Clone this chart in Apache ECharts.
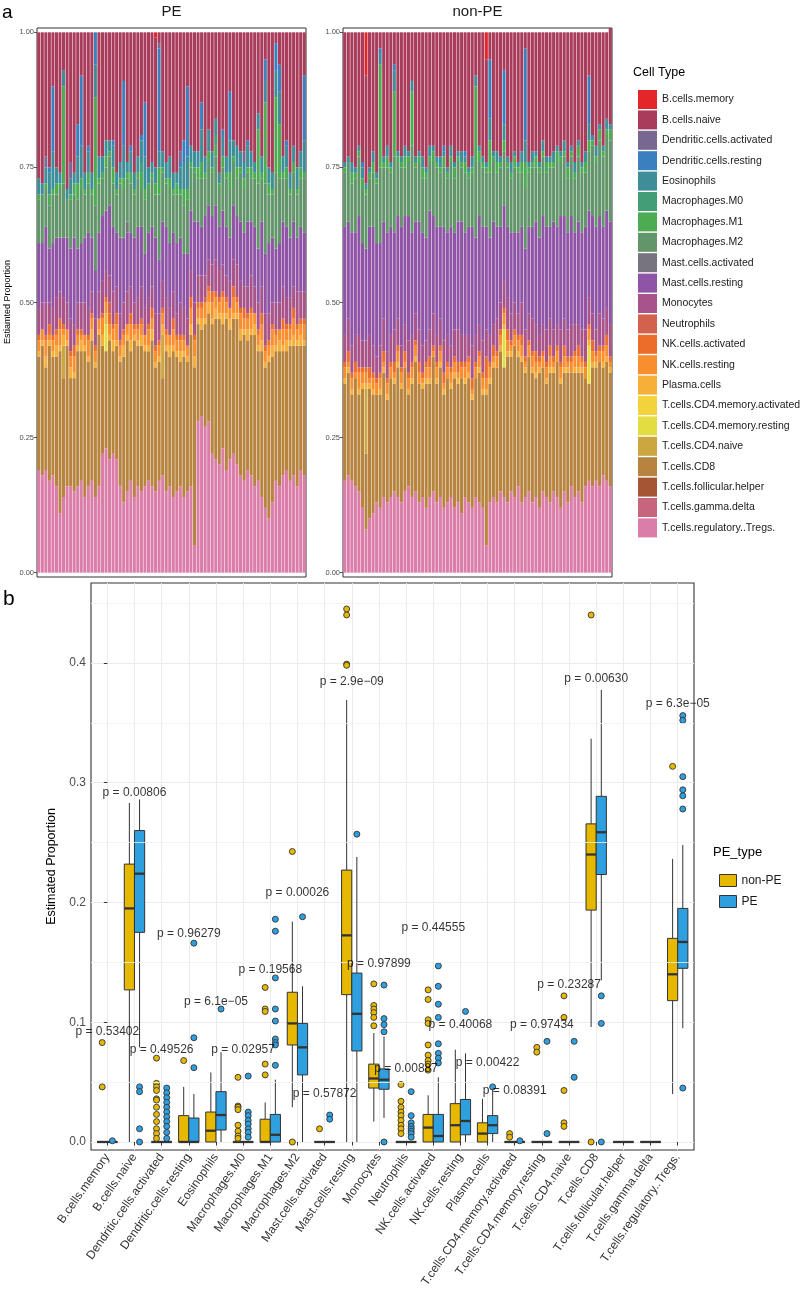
<!DOCTYPE html>
<html><head><meta charset="utf-8">
<script src="https://cdn.jsdelivr.net/npm/echarts@6/dist/echarts.min.js"></script>
<style>html,body{margin:0;padding:0;background:#fff}#c{width:800px;height:1309px}</style>
</head><body><div id="c"></div>
<script>
const FONT = "'Liberation Sans', Arial, sans-serif";
const cellTypes = ["B.cells.memory","B.cells.naive","Dendritic.cells.activated","Dendritic.cells.resting","Eosinophils","Macrophages.M0","Macrophages.M1","Macrophages.M2","Mast.cells.activated","Mast.cells.resting","Monocytes","Neutrophils","NK.cells.activated","NK.cells.resting","Plasma.cells","T.cells.CD4.memory.activated","T.cells.CD4.memory.resting","T.cells.CD4.naive","T.cells.CD8","T.cells.follicular.helper","T.cells.gamma.delta","T.cells.regulatory..Tregs."];
const cellColors = ["#E4262A","#A93B5B","#776892","#3A7FBE","#3D8E98","#439E76","#4DAC52","#62966A","#78747F","#9054A6","#A8548A","#D2614E","#EC6D2A","#F98E2F","#F6AF38","#F3D33C","#E4DD42","#CCA63E","#B7843F","#A55534","#C6657B","#DB7DA9"];
const N = 76;
function sparse(m){ const a = new Array(N).fill(0); for (const k in m) a[+k] = m[k]; return a; }

// ---- Panel a, PE samples (percent of each sample) ----
const pe_Bmem = sparse({33:1});
const pe_Bnaive = [27,28,23,25,10,25,26,7,29,24, 26,17,8,26,21,26,0,23,23,20, 20,20,26,24,9,24,21,26,23,19, 13,25,24,24,2,22,24,23,26,26, 22,20,10,21,22,22,13,23,18,22, 16,26,18,23,11,20,21,22,22,20, 22,24,15,23,5,25,26,2,6,23, 20,26,21,25,22,8];
const pe_DCact = sparse({2:2, 9:3, 34:1, 40:2, 58:2});
const pe_DCrest = [0,0,0,1,12,0,0,0,0,0, 0,6,13,0,1,0,6,0,0,0, 0,1,0,0,12,0,1,0,0,1, 10,0,0,0,19,0,0,0,0,0, 1,4,13,0,0,0,5,0,0,0, 0,0,1,0,9,0,0,0,0,1, 0,0,0,0,4,0,0,5,5,0, 1,0,0,0,0,12];
const pe_Eos = [3,2,3,4,7,3,2,3,2,3, 2,5,6,3,4,3,6,4,3,3, 2,4,3,3,6,2,4,3,3,4, 6,3,2,3,3,3,3,4,3,2, 4,5,6,3,3,3,6,3,4,3, 3,2,4,3,6,3,4,3,3,4, 3,2,3,3,4,3,3,5,6,3, 4,3,3,4,3,6];
const pe_M0 = sparse({29:2, 50:2});
const pe_M1 = [1,0,1,2,1,2,1,18,0,1, 2,3,2,1,2,1,20,1,1,2, 1,3,1,1,2,1,2,1,1,3, 2,1,1,2,5,1,1,2,1,2, 1,3,2,1,1,2,3,1,2,1, 2,1,2,1,3,1,2,1,2,1, 2,1,10,1,15,2,1,14,10,1, 2,1,2,1,2,1];
const pe_M2 = [8,9,7,8,9,8,9,10,7,9, 8,9,10,8,9,8,12,9,7,8, 9,8,7,10,9,8,9,8,9,7, 10,8,9,8,12,9,8,10,7,9, 8,9,10,8,9,8,9,7,8,8, 9,7,8,9,9,8,7,9,8,9, 8,9,12,8,13,9,8,14,12,8, 9,8,9,8,9,10];
const pe_MastAct = sparse({25:2});
const pe_MastRest = [12,11,14,10,12,11,10,11,12,13, 16,10,11,12,14,10,9,11,12,11, 13,12,10,14,12,11,10,12,13,11, 10,12,11,14,10,11,13,12,11,13, 12,10,12,11,15,10,9,11,10,9, 10,8,10,9,8,10,9,11,10,12, 10,11,10,12,11,13,12,10,11,12, 13,11,12,10,12,11];
const pe_Mono = [5,5,6,4,5,6,5,5,5,6, 4,5,5,6,5,4,5,5,6,5, 5,6,5,5,5,6,5,4,5,6, 5,5,4,6,5,5,6,5,5,4, 6,5,5,5,6,5,5,4,5,5, 6,5,5,4,5,5,6,5,4,5, 6,5,5,5,6,5,4,5,5,6, 5,5,4,6,5,5];
const pe_Neut = sparse({20:2, 47:1});
const pe_NKact = [1,0,1,2,1,1,2,1,0,1, 2,1,1,0,1,1,1,0,1,1, 2,1,2,1,1,0,2,1,1,1, 0,1,2,1,1,1,1,0,2,1, 1,1,0,2,1,1,1,0,1,2, 1,1,1,1,0,2,1,1,2,1, 1,0,1,2,1,1,1,1,0,2, 1,1,2,1,1,1];
const pe_NKrest = [2,2,3,1,2,2,3,1,2,2, 3,2,1,2,3,2,2,2,3,2, 2,2,3,2,2,2,3,1,2,2, 2,3,2,2,2,2,2,2,3,2, 2,2,2,3,3,2,2,3,2,3, 2,2,3,2,2,3,2,3,2,2, 3,2,2,3,2,2,3,2,2,3, 2,2,3,2,2,3];
const pe_Plasma = [1,1,2,1,1,2,1,2,1,2, 1,1,2,1,1,2,1,1,2,2, 1,2,1,1,2,1,2,1,1,2, 1,1,2,1,1,2,1,2,1,1, 2,1,1,2,2,1,2,1,2,1, 2,1,2,1,2,1,1,2,1,2, 1,2,1,2,1,1,2,1,2,1, 2,1,2,1,2,1];
const pe_CD4memAct = sparse({});
const pe_CD4memRest = sparse({19:5});
const pe_CD4naive = sparse({7:6, 35:8});
const pe_CD8 = [21,24,19,25,22,24,30,22,26,20, 21,25,24,27,23,26,24,28,20,18, 22,19,21,23,27,28,24,29,26,27, 25,24,27,23,22,18,26,24,27,25, 23,26,24,28,33,18,16,19,20,24, 26,27,23,28,24,25,27,25,27,24, 26,28,24,27,26,29,27,24,25,23, 22,25,24,26,23,24];
const pe_TFH = sparse({});
const pe_GD = sparse({});
const pe_Tregs = [19,18,19,17,18,16,11,14,16,16, 15,16,17,14,16,17,14,16,22,23, 21,22,21,16,13,15,17,14,16,15, 16,17,16,15,17,18,15,16,14,15, 16,14,15,16,5,28,29,27,28,22, 21,20,23,19,21,22,20,18,17,19, 18,16,17,14,12,10,13,17,16,18, 19,17,18,16,19,18];

// ---- Panel a, non-PE samples (percent) ----
const np_Bmem = sparse({6:8, 40:5});
const np_Bnaive = [24,23,24,25,21,24,20,25,22,26, 3,23,21,24,6,22,23,21,22,9, 23,22,23,25,21,21,23,23,21,25, 21,24,22,22,22,25,23,8,21,23, 19,5,22,22,23,7,23,24,22,24, 22,3,24,22,22,24,20,23,23,22, 21,22,20,24,21,24,20,24,22,8, 19,21,17,21,16,18];
const np_DCact = sparse({});
const np_DCrest = [0,0,0,0,0,1,0,0,0,0, 1,0,0,0,1,0,0,0,0,0, 0,0,0,0,0,0,0,0,1,0, 0,0,0,0,1,0,0,0,0,0, 0,11,0,0,0,10,0,0,0,0, 0,17,0,0,0,0,0,0,0,0, 0,0,0,0,0,0,0,0,0,9, 0,0,0,0,0,0];
const np_Eos = [1,1,2,1,1,2,1,1,2,1, 2,1,2,1,4,1,1,2,1,2, 1,1,2,1,2,1,1,2,1,1, 2,1,1,2,1,1,2,2,1,1, 1,4,1,2,1,3,1,2,1,1, 2,4,1,2,1,1,2,1,1,2, 1,1,2,1,1,2,1,1,2,3, 1,2,1,1,2,1];
const np_M0 = sparse({});
const np_M1 = [1,0,2,1,1,2,1,1,2,1, 19,1,2,1,12,1,1,2,1,10, 1,1,2,1,1,2,1,1,2,1, 1,2,1,1,2,1,1,14,2,1, 1,6,1,2,1,2,1,1,2,1, 2,5,1,1,2,1,1,2,1,1, 2,1,1,2,1,1,2,1,2,2, 1,1,2,1,1,2];
const np_M2 = [10,11,9,10,11,10,10,9,10,11, 14,10,12,10,14,10,11,9,10,16, 10,11,10,11,9,10,11,10,11,10, 12,10,11,10,11,9,10,14,10,11, 10,12,11,10,11,10,11,10,12,11, 10,11,10,11,10,12,11,10,11,10, 12,10,11,10,11,10,12,11,10,11, 13,12,14,13,14,15];
const np_MastAct = sparse({});
const np_MastRest = [20,18,21,19,22,18,17,20,22,21, 19,18,22,20,18,19,22,20,23,19, 17,20,21,19,22,18,20,17,21,19, 22,18,20,21,19,20,22,18,20,21, 19,18,19,17,14,14,13,15,13,15, 14,15,16,17,19,18,20,19,17,20, 18,21,19,18,20,17,19,18,19,16, 18,19,18,17,18,19];
const np_Mono = [5,6,5,5,6,5,5,6,5,4, 5,6,5,5,6,5,4,5,6,5, 5,6,5,4,5,6,5,5,6,5, 4,5,6,5,5,4,6,5,5,6, 5,5,4,6,5,5,6,5,5,4, 6,5,5,6,5,4,5,6,5,5, 4,6,5,5,6,5,4,5,6,5, 5,4,6,5,5,6];
const np_Neut = sparse({});
const np_NKact = [1,2,1,2,1,1,1,2,1,1, 1,2,1,1,2,1,1,2,1,1, 1,2,1,1,2,1,1,1,2,1, 1,1,2,1,1,1,2,1,1,1, 4,1,2,1,1,1,2,1,1,1, 2,1,1,1,2,1,1,1,2,1, 1,1,2,1,1,1,2,1,1,1, 2,1,1,1,2,1];
const np_NKrest = [2,1,2,1,3,2,2,1,2,2, 2,1,2,2,1,2,2,1,2,2, 2,2,1,2,2,1,2,2,1,2, 2,2,1,2,2,2,1,2,2,2, 2,2,1,2,2,2,2,1,2,2, 2,1,2,2,2,1,2,2,2,1, 2,2,2,1,2,2,2,1,2,2, 2,1,2,2,2,1];
const np_Plasma = [1,1,1,0,1,1,1,1,1,0, 1,1,1,0,1,1,1,0,1,1, 1,0,1,1,1,0,1,1,1,0, 1,1,1,0,1,1,1,0,1,1, 1,1,1,0,1,1,1,1,0,1, 1,1,0,1,1,1,0,1,1,1, 0,1,1,1,0,1,1,1,0,1, 1,1,0,1,1,1];
const np_CD4memAct = sparse({});
const np_CD4memRest = sparse({45:7, 69:7});
const np_CD4naive = sparse({6:12});
const np_CD8 = [18,19,16,20,18,22,14,24,22,20, 21,23,19,22,20,24,21,23,17,21, 24,22,20,23,21,25,22,24,21,23, 20,24,22,25,21,23,20,22,24,21, 28,22,24,25,26,24,27,25,28,24, 26,23,25,24,22,25,23,21,24,22, 25,23,22,24,21,23,22,24,20,18, 22,21,23,20,22,21];
const np_TFH = sparse({});
const np_GD = sparse({});
const np_Tregs = [17,18,17,16,15,12,8,10,11,13, 12,14,13,14,15,14,13,15,16,14, 15,13,14,12,14,15,13,14,12,13, 14,12,13,11,14,13,12,14,13,12, 5,13,14,13,15,14,13,15,14,16, 13,14,15,13,14,12,15,14,13,15, 14,12,15,13,16,14,15,13,16,17, 16,17,16,18,17,16];

const peTable = [pe_Bmem,pe_Bnaive,pe_DCact,pe_DCrest,pe_Eos,pe_M0,pe_M1,pe_M2,pe_MastAct,pe_MastRest,pe_Mono,pe_Neut,pe_NKact,pe_NKrest,pe_Plasma,pe_CD4memAct,pe_CD4memRest,pe_CD4naive,pe_CD8,pe_TFH,pe_GD,pe_Tregs];
const npTable = [np_Bmem,np_Bnaive,np_DCact,np_DCrest,np_Eos,np_M0,np_M1,np_M2,np_MastAct,np_MastRest,np_Mono,np_Neut,np_NKact,np_NKrest,np_Plasma,np_CD4memAct,np_CD4memRest,np_CD4naive,np_CD8,np_TFH,np_GD,np_Tregs];
const sampleIds = Array.from({length: N}, (_, i) => 'S' + (i + 1));
const propTicks = [0, 0.25, 0.5, 0.75, 1];

// ---- Panel b: box statistics [lowerWhisker, Q1, median, Q3, upperWhisker] ----
const boxNonPE = [
 [0,0,0,0,0],[0,0.127,0.195,0.232,0.283],[0,0,0,0,0],[0,0,0,0.022,0.046],[0,0,0.0094,0.025,0.058],
 [0,0,0,0,0],[0,0,0,0.019,0.033],[0.029,0.081,0.099,0.125,0.184],[0,0,0,0,0],[0,0.123,0.1725,0.227,0.369],
 [0.017,0.045,0.053,0.065,0.091],[0,0,0,0,0],[0,0,0.012,0.023,0.039],[0,0,0.014,0.032,0.077],[0,0,0.007,0.016,0.036],
 [0,0,0,0,0],[0,0,0,0,0],[0,0,0,0,0],[0.096,0.1936,0.24,0.2656,0.3367],[0,0,0,0,0],[0,0,0,0,0],
 [0.04,0.118,0.14,0.17,0.2364]];
const boxPE = [
 [0,0,0,0,0],[0.079,0.175,0.224,0.26,0.286],[0,0,0,0,0],[0,0,0,0.02,0.04],[0,0.01,0.0225,0.042,0.075],
 [0,0,0,0,0],[0,0,0.006,0.023,0.052],[0,0.056,0.079,0.099,0.13],[0,0,0,0,0],[0,0.076,0.107,0.141,0.238],
 [0.02,0.044,0.052,0.061,0.088],[0,0,0,0,0],[0,0,0.005,0.023,0.054],[0,0.006,0.0175,0.0355,0.074],[0,0.007,0.014,0.022,0.045],
 [0,0,0,0,0],[0,0,0,0,0],[0,0,0,0,0],[0.135,0.2233,0.2586,0.2886,0.3775],[0,0,0,0,0],[0,0,0,0,0],
 [0.095,0.145,0.167,0.195,0.248]];
// outliers: [category index, value]
const outliersNonPE = [[0,0.083],[0,0.046],
 [2,0.07],[2,0.049],[2,0.046],[2,0.043],[2,0.036],[2,0.035],[2,0.029],[2,0.023],[2,0.017],[2,0.011],[2,0.007],[2,0.003],
 [3,0.068],
 [5,0.054],[5,0.03],[5,0.029],[5,0.027],[5,0.014],[5,0.009],[5,0.005],[5,0.003],
 [6,0.129],[6,0.111],[6,0.109],[6,0.065],[6,0.056],
 [7,0.2425],[7,0],[8,0.011],
 [9,0.445],[9,0.44],[9,0.399],[9,0.398],
 [10,0.132],[10,0.114],[10,0.111],[10,0.108],[10,0.104],[10,0.097],
 [11,0.048],[11,0.034],[11,0.029],[11,0.025],[11,0.022],[11,0.018],[11,0.014],[11,0.011],[11,0.007],
 [12,0.127],[12,0.119],[12,0.102],[12,0.099],[12,0.081],[12,0.0725],[12,0.068],[12,0.065],[12,0.06],
 [15,0.007],[15,0.004],[16,0.079],[16,0.075],
 [17,0.122],[17,0.104],[17,0.043],[17,0.016],[17,0.013],
 [18,0.44],[18,0],[21,0.3136]];
const outliersPE = [[0,0.001],
 [1,0.046],[1,0.042],[1,0.011],[1,0],
 [2,0.045],[2,0.041],[2,0.037],[2,0.033],[2,0.029],[2,0.025],[2,0.021],[2,0.017],[2,0.013],[2,0.008],[2,0.003],
 [3,0.166],[3,0.087],[3,0.062],[4,0.111],
 [5,0.055],[5,0.025],[5,0.022],[5,0.018],[5,0.015],[5,0.011],[5,0.008],[5,0.004],
 [6,0.186],[6,0.176],[6,0.137],[6,0.111],[6,0.101],[6,0.086],[6,0.083],[6,0.081],[6,0.064],
 [7,0.188],[8,0.0225],[8,0.019],[9,0.257],
 [10,0.131],[10,0.103],[10,0.098],[10,0.092],[10,0],
 [11,0.042],[11,0.022],[11,0.016],[11,0.013],[11,0.011],[11,0.009],[11,0.007],[11,0.004],
 [12,0.147],[12,0.13],[12,0.115],[12,0.104],[12,0.082],[12,0.074],[12,0.07],[12,0.066],
 [13,0.109],[14,0.046],[15,0.001],[16,0.084],[16,0.007],[17,0.084],[17,0.054],
 [18,0.122],[18,0.099],[18,0],
 [21,0.356],[21,0.352],[21,0.305],[21,0.294],[21,0.289],[21,0.278],[21,0.045]];
const pLabels = ["p = 0.53402","p = 0.00806","p = 0.49526","p = 0.96279","p = 6.1e\u221205","p = 0.02957","p = 0.19568","p = 0.00026","p = 0.57872","p = 2.9e\u221209","p = 0.97899","p = 0.00887","p = 0.44555","p = 0.40068","p = 0.00422","p = 0.08391","p = 0.97434","p = 0.23287","p = 0.00630","","","p = 6.3e\u221205"];
const pLabelY = [0.092,0.292,0.077,0.174,0.117,0.077,0.144,0.208,0.040,0.384,0.149,0.061,0.179,0.098,0.066,0.043,0.098,0.131,0.3867,null,null,0.366];
const propTicksB = [0, 0.1, 0.2, 0.3, 0.4];
const minorTicksB = [0.05, 0.15, 0.25, 0.35, 0.45];
const groupColors = {"non-PE": "#E7B800", "PE": "#2E9FDF"};

const DODGE = 0.1875, HALF = 0.1875;
const catIdx = cellTypes.map((_, i) => i);

function boxRender(offset, color) {
  return function (params, api) {
    const x = api.value(0) + offset;
    const lo = api.value(1), q1 = api.value(2), md = api.value(3), q3 = api.value(4), hi = api.value(5);
    const c = v => api.coord([x, v]);
    const pL = api.coord([x - HALF, q3]);
    const pR = api.coord([x + HALF, q1]);
    const st = {stroke: '#333', lineWidth: 1};
    return {type: 'group', children: [
      {type: 'line', shape: {x1: c(hi)[0], y1: c(hi)[1], x2: c(q3)[0], y2: c(q3)[1]}, style: st},
      {type: 'line', shape: {x1: c(q1)[0], y1: c(q1)[1], x2: c(lo)[0], y2: c(lo)[1]}, style: st},
      {type: 'rect', shape: {x: pL[0], y: pL[1], width: pR[0] - pL[0], height: Math.max(pR[1] - pL[1], 0.01)}, style: {fill: color, stroke: '#333', lineWidth: 1}},
      {type: 'line', shape: {x1: pL[0], y1: c(md)[1], x2: pR[0], y2: c(md)[1]}, style: {stroke: '#333', lineWidth: 2.3}}
    ]};
  };
}

const chart = echarts.init(document.getElementById('c'), null, {renderer: 'canvas'});

const series = [];
[peTable, npTable].forEach((table, p) => {
  for (let k = cellTypes.length - 1; k >= 0; k--) {
    series.push({
      type: 'bar', name: cellTypes[k], xAxisIndex: p, yAxisIndex: p, stack: 'panel' + p,
      data: table[k].map(v => v / 100), barCategoryGap: '14%', silent: true,
      itemStyle: {color: cellColors[k]}
    });
  }
});

// minor gridlines (panel b)
series.push({
  type: 'scatter', xAxisIndex: 2, yAxisIndex: 2, z: 1, silent: true, symbolSize: 0,
  data: [[-1, -1]],
  markLine: {silent: true, symbol: 'none', label: {show: false}, animation: false,
    lineStyle: {color: '#F0F0F0', width: 0.8, type: 'solid'},
    data: minorTicksB.map(v => ({yAxis: v}))}
});
[['non-PE', boxNonPE, -DODGE], ['PE', boxPE, DODGE]].forEach(([name, stats, off]) => {
  series.push({
    type: 'custom', name: name, xAxisIndex: 2, yAxisIndex: 2, z: 3, silent: true,
    itemStyle: {color: groupColors[name]},
    renderItem: boxRender(off, groupColors[name]),
    encode: {x: 0, y: [1, 2, 3, 4, 5]},
    data: stats.map((s, i) => [i].concat(s))
  });
});
[['non-PE', outliersNonPE, -DODGE], ['PE', outliersPE, DODGE]].forEach(([name, pts, off]) => {
  series.push({
    type: 'scatter', name: name + ' outliers', xAxisIndex: 2, yAxisIndex: 2, z: 4, silent: true,
    symbolSize: 6,
    itemStyle: {color: groupColors[name], borderColor: '#333', borderWidth: 0.9, opacity: 1},
    data: pts.map(([ci, v]) => [ci + off, v])
  });
});
series.push({
  type: 'scatter', name: 'p values', xAxisIndex: 2, yAxisIndex: 2, z: 5, silent: true,
  symbolSize: 1, itemStyle: {color: 'rgba(0,0,0,0)'},
  data: catIdx.filter(i => pLabelY[i] !== null).map(i => [i, pLabelY[i]]),
  label: {show: true, position: 'inside', formatter: p => pLabels[p.data[0]],
    color: '#000', fontSize: 12, fontFamily: FONT}
});

const propAxis = (idx) => ({
  type: 'value', gridIndex: idx, min: -0.008, max: 1.008,
  axisLine: {show: false}, splitLine: {show: false},
  axisTick: {show: true, length: 3, customValues: propTicks, lineStyle: {color: '#333', width: 0.8}},
  axisLabel: {customValues: propTicks, formatter: v => v.toFixed(2), fontSize: 7.5, color: '#4D4D4D', margin: 3, fontFamily: FONT}
});
const sampAxis = (idx) => ({
  type: 'category', gridIndex: idx, data: sampleIds,
  axisLine: {show: false}, axisTick: {show: false}, axisLabel: {show: false}
});

const option = {
  animation: false,
  backgroundColor: '#fff',
  textStyle: {fontFamily: FONT},
  grid: [
    {left: 37, top: 28, width: 269, height: 549, show: true, borderColor: '#333', borderWidth: 1, backgroundColor: '#fff'},
    {left: 343, top: 28, width: 269, height: 549, show: true, borderColor: '#333', borderWidth: 1, backgroundColor: '#fff'},
    {left: 91, top: 583, width: 603, height: 567, show: true, borderColor: '#333', borderWidth: 1.1, backgroundColor: '#fff'}
  ],
  xAxis: [sampAxis(0), sampAxis(1), {
    type: 'value', gridIndex: 2, min: -0.6, max: 21.6,
    axisLine: {show: false},
    axisTick: {show: true, length: 3.5, customValues: catIdx, lineStyle: {color: '#333'}},
    splitLine: {show: true, lineStyle: {color: '#EBEBEB', width: 1}},
    axisLabel: {customValues: catIdx, formatter: v => cellTypes[Math.round(v)] || '', rotate: 55,
      fontSize: 12, color: '#333', margin: 5, fontFamily: FONT}
  }],
  yAxis: [propAxis(0), propAxis(1), {
    type: 'value', gridIndex: 2, min: -0.0067, max: 0.4667,
    name: 'Estimated Proportion', nameLocation: 'middle', nameGap: 31, nameRotate: 90,
    nameTextStyle: {fontSize: 12.5, color: '#000', fontFamily: FONT},
    axisLine: {show: false},
    axisTick: {show: true, length: 3.5, customValues: propTicksB, lineStyle: {color: '#333'}},
    splitLine: {show: true, lineStyle: {color: '#EBEBEB', width: 1}},
    axisLabel: {customValues: propTicksB, formatter: v => v.toFixed(1), fontSize: 12, color: '#4D4D4D', margin: 5, fontFamily: FONT}
  }],
  legend: [
    {orient: 'vertical', left: 633, top: 85, itemWidth: 19, itemHeight: 19, itemGap: 1.4, icon: 'rect',
     selectedMode: false, data: cellTypes, textStyle: {fontSize: 10.5, color: '#1a1a1a', fontFamily: FONT}},
    {orient: 'vertical', left: 714, top: 869, itemWidth: 17, itemHeight: 12, itemGap: 8, selectedMode: false,
     data: [
       {name: 'non-PE', icon: 'rect', itemStyle: {color: groupColors['non-PE'], borderColor: '#333', borderWidth: 1}},
       {name: 'PE', icon: 'rect', itemStyle: {color: groupColors['PE'], borderColor: '#333', borderWidth: 1}}],
     textStyle: {fontSize: 12, color: '#1a1a1a', fontFamily: FONT}}
  ],
  graphic: [
    {type: 'text', x: 2, y: 3, style: {text: 'a', fontSize: 19, fill: '#000', fontFamily: FONT}},
    {type: 'text', x: 3, y: 589, style: {text: 'b', fontSize: 21, fill: '#000', fontFamily: FONT}},
    {type: 'text', x: 171.5, y: 12, style: {text: 'PE', fontSize: 15, fill: '#1a1a1a', fontFamily: FONT, align: 'center', verticalAlign: 'middle', textAlign: 'center', textVerticalAlign: 'middle'}},
    {type: 'text', x: 477.5, y: 12, style: {text: 'non-PE', fontSize: 15, fill: '#1a1a1a', fontFamily: FONT, align: 'center', verticalAlign: 'middle', textAlign: 'center', textVerticalAlign: 'middle'}},
    {type: 'text', x: 8, y: 302, rotation: Math.PI / 2, style: {text: 'Estiamted Proportion', fontSize: 9, fill: '#000', fontFamily: FONT, align: 'center', verticalAlign: 'middle', textAlign: 'center', textVerticalAlign: 'middle'}},
    {type: 'text', x: 633, y: 66, style: {text: 'Cell Type', fontSize: 12.5, fill: '#000', fontFamily: FONT}},
    {type: 'text', x: 713, y: 846, style: {text: 'PE_type', fontSize: 13, fill: '#000', fontFamily: FONT}}
  ],
  series: series
};
chart.setOption(option);
</script>
</body></html>
